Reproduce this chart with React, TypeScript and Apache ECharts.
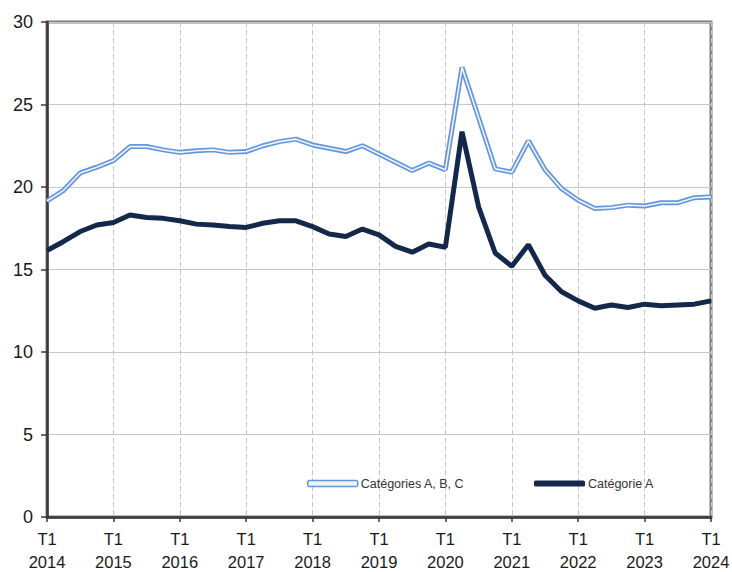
import React, { useEffect, useRef } from "react";
import * as echarts from "echarts";

const years = [2014, 2015, 2016, 2017, 2018, 2019, 2020, 2021, 2022, 2023, 2024];
const quarters = ["T1", "T2", "T3", "T4"];
const categories: string[] = [];
years.forEach((y) => {
  quarters.forEach((q) => {
    if (y < 2024 || q === "T1") categories.push(q + " " + y);
  });
});

const catABC = [
  19.15, 19.8, 20.85, 21.2, 21.6, 22.45, 22.45, 22.25, 22.1, 22.2, 22.25, 22.1, 22.15,
  22.5, 22.75, 22.9, 22.55, 22.35, 22.15, 22.5, 22.0, 21.5, 21.0, 21.45, 21.05,
  27.25, 24.2, 21.1, 20.9, 22.8, 21.05, 19.9, 19.2, 18.7, 18.75, 18.9, 18.85,
  19.05, 19.05, 19.35, 19.4,
];
const catA = [
  16.15, 16.7, 17.3, 17.7, 17.85, 18.3, 18.15, 18.1, 17.95, 17.75, 17.7, 17.6, 17.55,
  17.8, 17.95, 17.95, 17.6, 17.15, 17.0, 17.45, 17.1, 16.4, 16.05, 16.55, 16.35,
  23.35, 18.8, 16.0, 15.2, 16.5, 14.65, 13.65, 13.1, 12.65, 12.85, 12.7, 12.9,
  12.8, 12.85, 12.9, 13.1,
];

const nameABC = "Catégories A, B, C";
const nameA = "Catégorie A";
const blue = "#6596dc";
const inner = "#eef4fc";
const navy = "#13284a";
const font = "Liberation Sans";

export default function App() {
  const ref = useRef<HTMLDivElement>(null);
  useEffect(() => {
    if (!ref.current) return;
    const chart = echarts.init(ref.current, null, { renderer: "svg" });
    const isT1 = (i: number) => i % 4 === 0;
    chart.setOption({
      animation: false,
      grid: {
        left: 47,
        right: 21,
        top: 22,
        bottom: 55,
        show: true,
        borderColor: "#7f7f7f",
        borderWidth: 3,
        containLabel: false,
        outerBoundsMode: "none",
      },
      legend: [
        {
          data: [{ name: nameABC, icon: "roundRect", itemStyle: { color: inner, borderColor: blue, borderWidth: 1.5 } }],
          left: 302,
          top: 472,
          itemWidth: 50,
          itemHeight: 6,
          itemGap: 0,
          selectedMode: false,
          textStyle: { fontFamily: font, fontSize: 12.5, color: "#333", padding: [0, 0, 0, -2] },
        },
        {
          data: [{ name: nameA, icon: "roundRect", itemStyle: { color: navy } }],
          left: 529,
          top: 472,
          itemWidth: 51,
          itemHeight: 6,
          selectedMode: false,
          textStyle: { fontFamily: font, fontSize: 12.5, color: "#333", padding: [0, 0, 0, -2] },
        },
      ],
      xAxis: {
        type: "category",
        data: categories,
        boundaryGap: false,
        axisLine: { show: true, lineStyle: { color: "#3a3a3a", width: 2.5 } },
        axisTick: { show: true, interval: (i: number) => isT1(i), length: 5, lineStyle: { color: "#3a3a3a", width: 1.5 } },
        axisLabel: {
          interval: (i: number) => isT1(i),
          formatter: (v: string) => v.replace(" ", "\n"),
          fontFamily: font,
          fontSize: 16.5,
          lineHeight: 23,
          color: "#1a1a1a",
          margin: 10,
        },
        splitLine: {
          show: true,
          interval: (i: number) => isT1(i),
          lineStyle: { color: "#c4c4c4", type: [5, 3], width: 1 },
        },
      },
      yAxis: {
        type: "value",
        min: 0,
        max: 30,
        interval: 5,
        axisLine: { show: true, lineStyle: { color: "#3a3a3a", width: 2.5 } },
        axisTick: { show: true, length: 6, lineStyle: { color: "#3a3a3a", width: 1.5 } },
        axisLabel: { fontFamily: font, fontSize: 18, color: "#1a1a1a", margin: 14 },
        splitLine: { show: true, lineStyle: { color: "#c8c8c8", width: 1 } },
      },
      series: [
        {
          name: nameABC,
          type: "line",
          data: catABC,
          showSymbol: false,
          lineStyle: { color: blue, width: 5 },
          itemStyle: { color: blue },
          z: 2,
        },
        {
          name: "ABC_inner",
          type: "line",
          data: catABC,
          showSymbol: false,
          lineStyle: { color: inner, width: 1.6 },
          itemStyle: { color: inner },
          z: 3,
          silent: true,
        },
        {
          name: nameA,
          type: "line",
          data: catA,
          showSymbol: false,
          lineStyle: { color: navy, width: 5 },
          itemStyle: { color: navy },
          z: 4,
        },
      ],
    });
    return () => chart.dispose();
  }, []);
  return <div ref={ref} style={{ width: 732, height: 572, position: "absolute", left: 0, top: 0 }} />;
}
